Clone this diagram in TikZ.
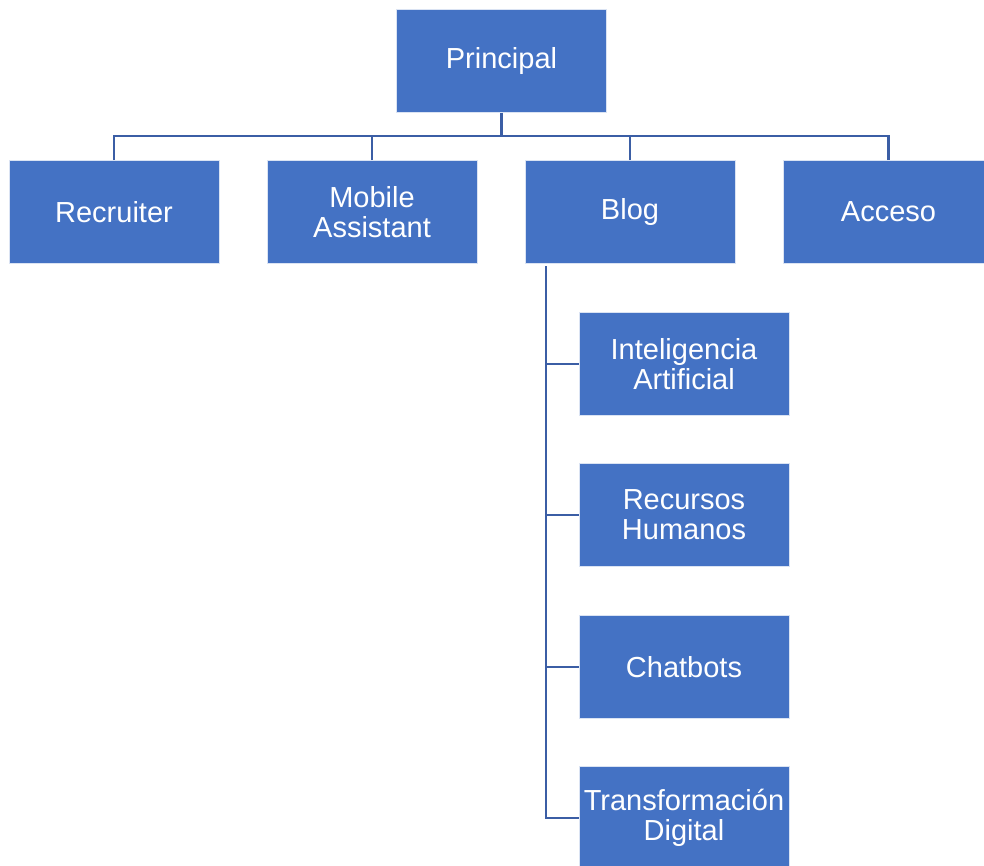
\documentclass[tikz,border=0pt]{standalone}
\usepackage{fontspec}
\setmainfont{Liberation Sans}
\definecolor{boxblue}{HTML}{4472C4}
\definecolor{linkblue}{HTML}{3B5EA5}
\begin{document}
\begin{tikzpicture}[x=1pt,y=-1pt,
  orgbox/.style={rectangle, fill=boxblue, draw=white!80!boxblue, line width=1pt,
    minimum width=210pt, minimum height=103pt, inner sep=0pt, text=white,
    align=center, font=\fontsize{29}{30}\selectfont},
  link/.style={draw=linkblue, line width=2.6pt}]
\useasboundingbox (0,0) rectangle (984,865);
\clip (0,0) rectangle (984,865);
% top level
\node[orgbox] (principal) at (501.5,60.5) {Principal};
% second level
\node[orgbox] (recruiter) at (114,212) {Recruiter};
\node[orgbox] (mobile) at (372,212) {Mobile\\Assistant};
\node[orgbox] (blog) at (630,212) {Blog};
\node[orgbox] (acceso) at (888.5,212) {Acceso};
% blog sections
\node[orgbox] (ia) at (684,364) {Inteligencia\\Artificial};
\node[orgbox] (rh) at (684,515) {Recursos\\Humanos};
\node[orgbox] (chat) at (684,667) {Chatbots};
\node[orgbox] (td) at (684,818) {Transformación\\Digital};
% horizontal bus under the top box
\coordinate (bus) at (501.5,136);
\draw[link] (principal.south) -- (bus);
\draw[link] (recruiter.north) |- (bus);
\draw[link] (acceso.north) |- (bus);
\draw[link] (mobile.north) -- (mobile.north |- bus);
\draw[link] (blog.north) -- (blog.north |- bus);
% vertical spine on the left of the blog sections
\coordinate (spinetop) at (546,266);
\coordinate (spinebot) at (546,818);
\draw[link] (spinetop) -- (spinebot) -- (td.west);
\draw[link] (ia.west) -- (ia.west -| spinetop);
\draw[link] (rh.west) -- (rh.west -| spinetop);
\draw[link] (chat.west) -- (chat.west -| spinetop);
\end{tikzpicture}
\end{document}
